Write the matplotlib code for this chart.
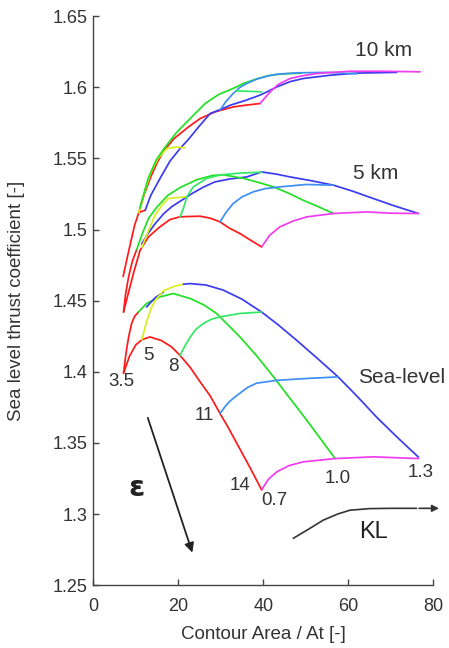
import matplotlib
matplotlib.use("Agg")
import matplotlib.pyplot as plt

plt.rcParams["font.family"] = ["Liberation Sans", "DejaVu Sans"]

# Farben der Kurven
ROT = "#ff1a1a"
GRUEN = "#22e022"
HELLGRUEN = "#33e866"
BLAU = "#3b3bf0"
HELLBLAU = "#3d8ff5"
GELB = "#d8f020"
MAGENTA = "#f03cf0"

# ---- Meereshoehe (Sea-level) ----
sl_rot_eps35_x = [7.1, 7.5, 7.9, 8.4, 9.0, 9.7, 10.6]
sl_rot_eps35_y = [1.399, 1.409, 1.4175, 1.426, 1.434, 1.439, 1.442]
sl_rot_kl07_x = [7.1, 8.5, 10.0, 11.4, 13.3, 16.0, 18.4, 20.4, 22.8, 25.1, 27.5, 29.8, 31.8, 33.7, 36.8, 39.6]
sl_rot_kl07_y = [1.399, 1.411, 1.419, 1.4225, 1.4245, 1.422, 1.4175, 1.4115, 1.403, 1.393, 1.383, 1.3707, 1.3605, 1.350, 1.333, 1.317]
sl_gruen_kl10_x = [10.6, 12.5, 15.7, 18.8, 22.8, 26.0, 29.0, 34.5, 38.5, 42.4, 50.2, 56.9]
sl_gruen_kl10_y = [1.442, 1.448, 1.4527, 1.455, 1.4515, 1.447, 1.441, 1.4245, 1.411, 1.3964, 1.366, 1.339]
sl_blau_kurz_x = [12.5, 14.5, 16.5]
sl_blau_kurz_y = [1.4456, 1.452, 1.456]
sl_gelb_eps5_x = [11.4, 12.5, 13.5, 14.5, 16.5, 19.0, 21.2]
sl_gelb_eps5_y = [1.4225, 1.435, 1.444, 1.450, 1.457, 1.460, 1.4616]
sl_blau_kl13_x = [21.2, 22.8, 26.5, 30.6, 35.0, 39.6, 43.5, 47.9, 52.5, 57.6, 62.0, 66.7, 71.5, 76.5]
sl_blau_kl13_y = [1.4616, 1.462, 1.461, 1.4574, 1.451, 1.442, 1.433, 1.422, 1.410, 1.3964, 1.383, 1.368, 1.354, 1.340]
sl_gruen_eps8_x = [20.4, 21.5, 22.8, 24.2, 25.9, 27.8, 29.8, 34.5, 39.6]
sl_gruen_eps8_y = [1.4115, 1.418, 1.4245, 1.430, 1.434, 1.437, 1.4386, 1.441, 1.442]
sl_hblau_eps11_x = [29.8, 31.0, 32.0, 33.2, 34.5, 36.3, 38.4, 43.2, 50.2, 57.6]
sl_hblau_eps11_y = [1.3707, 1.3755, 1.379, 1.382, 1.385, 1.389, 1.392, 1.394, 1.3953, 1.3964]
sl_mag_eps14_x = [39.6, 41.2, 43.2, 46.0, 49.4, 56.9, 65.9, 76.5]
sl_mag_eps14_y = [1.317, 1.3245, 1.3297, 1.334, 1.3367, 1.339, 1.3402, 1.339]

# ---- 5 km ----
k5_rot_eps35_x = [7.1, 7.6, 8.3, 9.2, 10.2]
k5_rot_eps35_y = [1.442, 1.455, 1.467, 1.478, 1.486]
k5_rot_kl07_x = [7.1, 8.2, 9.5, 11.0, 13.0, 15.7, 18.0, 20.4, 25.1, 27.5, 29.8, 32.0, 34.5, 37.0, 39.6]
k5_rot_kl07_y = [1.442, 1.455, 1.470, 1.4855, 1.495, 1.502, 1.507, 1.509, 1.5094, 1.508, 1.5054, 1.501, 1.4972, 1.4925, 1.4878]
k5_gruen_kl10_x = [10.2, 11.5, 13.0, 15.0, 17.5, 20.4, 24.3, 28.0, 30.6, 35.3, 39.0, 42.4, 46.0, 49.4, 53.0, 56.5]
k5_gruen_kl10_y = [1.486, 1.497, 1.508, 1.516, 1.524, 1.5295, 1.535, 1.538, 1.5385, 1.536, 1.533, 1.530, 1.5255, 1.5206, 1.516, 1.5113]
k5_gelb_eps5_x = [11.4, 12.8, 14.5, 16.1, 17.6, 21.6]
k5_gelb_eps5_y = [1.4875, 1.498, 1.510, 1.517, 1.5218, 1.523]
k5_blau_kl13_x = [11.4, 12.8, 14.5, 16.5, 18.4, 21.0, 23.2, 26.0, 28.6, 32.0, 36.1, 39.6, 43.0, 46.3, 51.0, 56.5, 61.0, 65.9, 71.0, 76.5]
k5_blau_kl13_y = [1.490, 1.497, 1.504, 1.511, 1.516, 1.521, 1.5253, 1.530, 1.5335, 1.5355, 1.537, 1.5405, 1.539, 1.537, 1.5345, 1.5312, 1.527, 1.5218, 1.5165, 1.5113]
k5_gruen_eps8_x = [20.4, 21.2, 22.0, 23.5, 26.7, 30.0, 35.0, 39.6]
k5_gruen_eps8_y = [1.509, 1.515, 1.523, 1.530, 1.536, 1.5385, 1.5398, 1.5403]
k5_hblau_eps11_x = [29.8, 31.2, 32.9, 35.0, 37.6, 40.5, 43.9, 50.2, 56.5]
k5_hblau_eps11_y = [1.5054, 1.512, 1.5183, 1.523, 1.5265, 1.5288, 1.530, 1.5317, 1.5312]
k5_mag_eps14_x = [39.6, 41.5, 43.9, 47.0, 50.2, 56.5, 64.3, 70.0, 76.5]
k5_mag_eps14_y = [1.4878, 1.496, 1.5019, 1.506, 1.5089, 1.5113, 1.5124, 1.5115, 1.5113]

# ---- 10 km ----
k10_rot_x = [7.0, 7.8, 8.7, 9.7, 10.7, 12.0, 13.5, 15.0, 16.5, 19.0, 22.4, 25.1, 28.6, 32.9, 36.0, 39.2]
k10_rot_y = [1.467, 1.478, 1.490, 1.503, 1.512, 1.525, 1.537, 1.547, 1.555, 1.564, 1.5722, 1.578, 1.5827, 1.5862, 1.5875, 1.5886]
k10_rot_kurz_x = [10.7, 12.2]
k10_rot_kurz_y = [1.512, 1.5136]
k10_mag_x = [39.2, 40.5, 41.6, 43.5, 46.3, 49.0, 52.6, 56.0, 60.4, 68.0, 76.9]
k10_mag_y = [1.5886, 1.593, 1.5968, 1.602, 1.6062, 1.608, 1.6097, 1.6105, 1.6113, 1.6113, 1.6109]
k10_gelb_x = [10.7, 12.0, 13.5, 15.2, 17.3, 19.5, 21.6]
k10_gelb_y = [1.512, 1.526, 1.540, 1.550, 1.557, 1.558, 1.5575]
k10_gruen_x = [10.9, 12.9, 14.8, 16.9, 19.5, 22.4, 26.3, 29.5, 32.9, 35.3, 38.5, 41.6, 45.0, 49.0]
k10_gruen_y = [1.515, 1.536, 1.549, 1.558, 1.568, 1.5769, 1.5886, 1.595, 1.5992, 1.6027, 1.606, 1.6085, 1.6095, 1.6100]
k10_blau_x = [12.2, 13.5, 15.7, 18.0, 20.4, 22.4, 25.0, 27.5, 30.0, 32.2, 36.0, 39.2, 41.0, 43.2, 46.3, 49.4, 55.7, 62.0, 71.4]
k10_blau_y = [1.5136, 1.524, 1.536, 1.548, 1.557, 1.5635, 1.573, 1.5816, 1.5845, 1.5874, 1.591, 1.5945, 1.597, 1.6003, 1.604, 1.6062, 1.6085, 1.610, 1.6105]
k10_hblau_x = [29.8, 31.2, 32.9, 34.5, 36.1, 38.5, 40.8, 43.2, 48.0, 55.0, 62.0]
k10_hblau_y = [1.584, 1.590, 1.5957, 1.600, 1.6027, 1.6058, 1.6078, 1.6092, 1.6102, 1.6105, 1.6095]
k10_gruen_kurz_x = [33.5, 36.5, 39.6]
k10_gruen_kurz_y = [1.5975, 1.5972, 1.5968]

# Beschriftungen (epsilon- und KL-Werte)
eps_texte = ["3.5", "5", "8", "11", "14"]
eps_x = [6.6, 12.9, 18.8, 26.0, 34.6]
eps_y = [1.3934, 1.4117, 1.404, 1.3695, 1.3203]
kl_texte = ["0.7", "1.0", "1.3"]
kl_x = [42.7, 57.6, 77.0]
kl_y = [1.3097, 1.3252, 1.3294]
hoehen_texte = ["Sea-level", "5 km", "10 km"]
hoehen_x = [72.5, 66.5, 68.2]
hoehen_y = [1.3962, 1.5396, 1.626]

# Pfeile
eps_pfeil_x = [12.6, 23.5]
eps_pfeil_y = [1.3695, 1.271]
kl_kurve_x = [47.1, 51.0, 54.1, 57.5, 60.4, 65.0, 69.8, 76.0]
kl_kurve_y = [1.283, 1.290, 1.2957, 1.300, 1.3027, 1.3038, 1.304, 1.304]
kl_pfeil_ende = 82.0


fig = plt.figure(figsize=(4.49, 6.48), dpi=100)
ax = fig.add_axes([0.208, 0.097, 0.757, 0.878])

lw = 1.25
kurven = [
    # Meereshoehe
    (sl_rot_eps35_x, sl_rot_eps35_y, ROT),
    (sl_rot_kl07_x, sl_rot_kl07_y, ROT),
    (sl_gruen_kl10_x, sl_gruen_kl10_y, GRUEN),
    (sl_blau_kurz_x, sl_blau_kurz_y, BLAU),
    (sl_gelb_eps5_x, sl_gelb_eps5_y, GELB),
    (sl_blau_kl13_x, sl_blau_kl13_y, BLAU),
    (sl_gruen_eps8_x, sl_gruen_eps8_y, HELLGRUEN),
    (sl_hblau_eps11_x, sl_hblau_eps11_y, HELLBLAU),
    (sl_mag_eps14_x, sl_mag_eps14_y, MAGENTA),
    # 5 km
    (k5_rot_eps35_x, k5_rot_eps35_y, ROT),
    (k5_rot_kl07_x, k5_rot_kl07_y, ROT),
    (k5_blau_kl13_x, k5_blau_kl13_y, BLAU),
    (k5_gruen_kl10_x, k5_gruen_kl10_y, GRUEN),
    (k5_gelb_eps5_x, k5_gelb_eps5_y, GELB),
    (k5_gruen_eps8_x, k5_gruen_eps8_y, HELLGRUEN),
    (k5_hblau_eps11_x, k5_hblau_eps11_y, HELLBLAU),
    (k5_mag_eps14_x, k5_mag_eps14_y, MAGENTA),
    # 10 km
    (k10_rot_x, k10_rot_y, ROT),
    (k10_rot_kurz_x, k10_rot_kurz_y, ROT),
    (k10_blau_x, k10_blau_y, BLAU),
    (k10_gelb_x, k10_gelb_y, GELB),
    (k10_gruen_x, k10_gruen_y, GRUEN),
    (k10_hblau_x, k10_hblau_y, HELLBLAU),
    (k10_gruen_kurz_x, k10_gruen_kurz_y, HELLGRUEN),
    (k10_mag_x, k10_mag_y, MAGENTA),
]
for xs, ys, farbe in kurven:
    ax.plot(xs, ys, color=farbe, lw=lw, solid_capstyle="round", solid_joinstyle="round")

textfarbe = "#333333"
for t, x, y in zip(eps_texte, eps_x, eps_y):
    ax.text(x, y, t, ha="center", va="center", fontsize=13.5, color=textfarbe)
for t, x, y in zip(kl_texte, kl_x, kl_y):
    ax.text(x, y, t, ha="center", va="center", fontsize=13.5, color=textfarbe)
for t, x, y in zip(hoehen_texte, hoehen_x, hoehen_y):
    ax.text(x, y, t, ha="center", va="center", fontsize=15, color=textfarbe)

# epsilon-Pfeil
ax.annotate("", xy=(eps_pfeil_x[1], eps_pfeil_y[1]), xytext=(eps_pfeil_x[0], eps_pfeil_y[0]),
            arrowprops=dict(arrowstyle="-|>", color="#222222", lw=1.3, mutation_scale=14))
ax.text(10.2, 1.318, "ε", ha="center", va="center", fontsize=21, fontweight="bold",
        color="#222222", family=["DejaVu Sans"])

# KL-Kurve mit Pfeil
ax.plot(kl_kurve_x, kl_kurve_y, color="#333333", lw=1.2, clip_on=False)
ax.annotate("", xy=(kl_pfeil_ende, kl_kurve_y[-1]), xytext=(kl_kurve_x[-1], kl_kurve_y[-1]),
            arrowprops=dict(arrowstyle="-|>", color="#333333", lw=1.2, mutation_scale=10),
            annotation_clip=False)
ax.text(65.9, 1.2875, "KL", ha="center", va="center", fontsize=17, color="#222222")

ax.set_xlim(0, 80)
ax.set_ylim(1.25, 1.65)
ax.set_xticks([0, 20, 40, 60, 80])
ax.set_yticks([1.25, 1.3, 1.35, 1.4, 1.45, 1.5, 1.55, 1.6, 1.65])
ax.set_yticklabels(["1.25", "1.3", "1.35", "1.4", "1.45", "1.5", "1.55", "1.6", "1.65"])
ax.spines["top"].set_visible(False)
ax.spines["right"].set_visible(False)
for s in ["left", "bottom"]:
    ax.spines[s].set_color("#444444")
    ax.spines[s].set_linewidth(1.0)
ax.tick_params(direction="in", length=4, width=1, colors="#444444", labelcolor=textfarbe,
               labelsize=13)
ax.tick_params(axis="y", pad=4)
ax.tick_params(axis="x", pad=9)
ax.set_xlabel("Contour Area / At [-]", fontsize=13.5, color=textfarbe, labelpad=8)
ax.set_ylabel("Sea level thrust coefficient [-]", fontsize=13.5, color=textfarbe, labelpad=20)

fig.savefig("out.png", dpi=100)
